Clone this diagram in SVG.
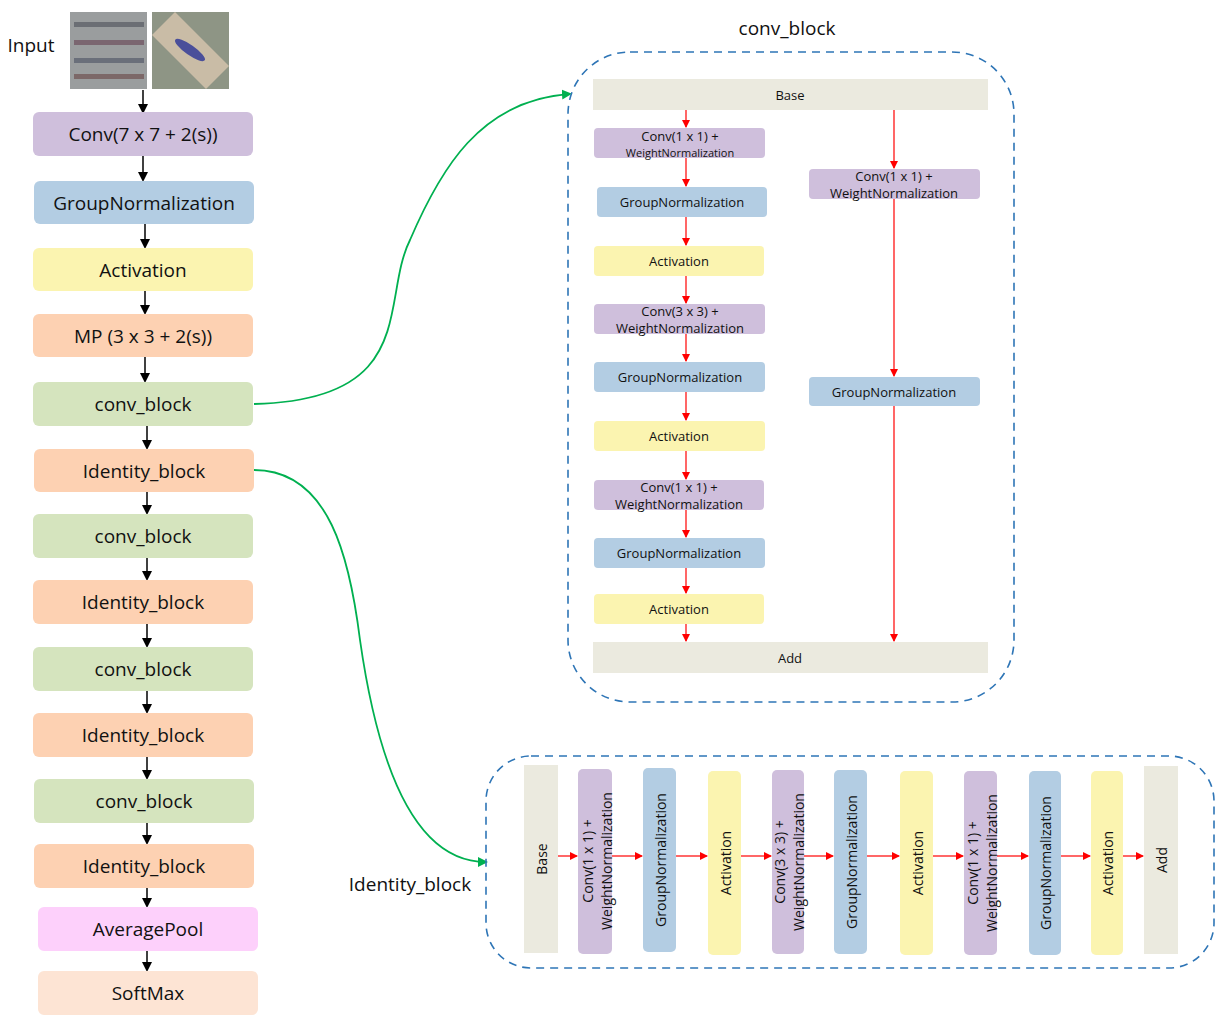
<svg xmlns="http://www.w3.org/2000/svg" width="1221" height="1023" viewBox="0 0 1221 1023">
<style>
text{font-family:"Open Sans","Liberation Sans",sans-serif;fill:#111;text-anchor:middle;dominant-baseline:central}
.L{font-size:19px}.S{font-size:13px}.V{font-size:14px}
.pu{fill:#cfbfdc}.bl{fill:#b3cde3}.ye{fill:#fbf4b0}.or{fill:#fdd1b2}.gr{fill:#d5e4be}.pk{fill:#fdd0fb}.sm{fill:#fde4d4}.bs{fill:#ebeadf}
.k{stroke:#000;stroke-width:1.5;fill:none;marker-end:url(#ak)}
.r{stroke:#f00;stroke-width:1.2;fill:none;marker-end:url(#ar)}
.g{stroke:#00b050;stroke-width:1.8;fill:none;marker-end:url(#ag)}
.d{fill:none;stroke:#2e75b6;stroke-width:1.6;stroke-dasharray:8 6}
</style>
<defs>
<marker id="ak" markerWidth="10" markerHeight="10" refX="8" refY="5" orient="auto" markerUnits="userSpaceOnUse"><path d="M0,0L10,5L0,10z" fill="#000"/></marker>
<marker id="ar" markerWidth="8" markerHeight="8" refX="7" refY="4" orient="auto" markerUnits="userSpaceOnUse"><path d="M0,0L8,4L0,8z" fill="#f00"/></marker>
<marker id="ag" markerWidth="10" markerHeight="10" refX="8" refY="5" orient="auto" markerUnits="userSpaceOnUse"><path d="M0,0L10,5L0,10z" fill="#00b050"/></marker>
</defs>
<text x="31" y="45" class="L">Input</text>
<g id="input-images">
<rect x="70" y="12" width="77" height="77" fill="#9a9d9e"/>
<rect x="74" y="22" width="70" height="5" fill="#6b6e74"/><rect x="74" y="40" width="70" height="5" fill="#7a6670"/><rect x="74" y="58" width="70" height="5" fill="#6a6f7a"/><rect x="74" y="74" width="70" height="5" fill="#7c6868"/>
<rect x="152" y="12" width="77" height="77" fill="#8e9585"/>
<path d="M152,35 L175,12 L229,66 L206,89 Z" fill="#c9bca6"/>
<ellipse cx="190" cy="50" rx="18" ry="5" transform="rotate(35 190 50)" fill="#4a4f9a"/>
</g>
<g id="connectors">
<path class="k" d="M143,90V112"/><path class="k" d="M143,156V180"/><path class="k" d="M145,224V247"/><path class="k" d="M145,291V313"/><path class="k" d="M145,357V381"/><path class="k" d="M147,426V448"/><path class="k" d="M147,492V513"/><path class="k" d="M147,558V579"/><path class="k" d="M147,624V646"/><path class="k" d="M147,691V712"/><path class="k" d="M147,757V778"/><path class="k" d="M147,823V843"/><path class="k" d="M147,888V906"/><path class="k" d="M147,951V970"/>
<path class="g" d="M254,404 C420,400 380,300 410,240 C440,170 480,100 570,94"/>
<path class="g" d="M254,470 C330,470 350,560 360,640 C380,780 420,862 486,862"/>
<path class="r" d="M686,110V127"/><path class="r" d="M686,158V186"/><path class="r" d="M686,217V245"/><path class="r" d="M686,276V303"/><path class="r" d="M686,334V361"/><path class="r" d="M686,392V420"/><path class="r" d="M686,451V479"/><path class="r" d="M686,510V537"/><path class="r" d="M686,568V593"/><path class="r" d="M686,624V641"/>
<path class="r" d="M894,110V168"/><path class="r" d="M894,199V376"/><path class="r" d="M894,406V641"/>
<path class="r" d="M558,856H577"/><path class="r" d="M612,856H642"/><path class="r" d="M676,856H707"/><path class="r" d="M741,856H771"/><path class="r" d="M804,856H833"/><path class="r" d="M867,856H899"/><path class="r" d="M933,856H963"/><path class="r" d="M997,856H1028"/><path class="r" d="M1061,856H1090"/><path class="r" d="M1123,856H1143"/>
</g>
<g id="left">
<g id="n1"><rect class="pu" x="33" y="112" width="220" height="44" rx="6"/><text class="L" x="143" y="134">Conv(7 x 7 + 2(s))</text></g>
<g id="n2"><rect class="bl" x="34" y="181" width="220" height="43" rx="6"/><text class="L" x="144" y="203">GroupNormalization</text></g>
<g id="n3"><rect class="ye" x="33" y="248" width="220" height="43" rx="6"/><text class="L" x="143" y="270">Activation</text></g>
<g id="n4"><rect class="or" x="33" y="314" width="220" height="43" rx="6"/><text class="L" x="143" y="336">MP (3 x 3 + 2(s))</text></g>
<g id="n5"><rect class="gr" x="33" y="382" width="220" height="44" rx="6"/><text class="L" x="143" y="404">conv_block</text></g>
<g id="n6"><rect class="or" x="34" y="449" width="220" height="43" rx="6"/><text class="L" x="144" y="471">Identity_block</text></g>
<g id="n7"><rect class="gr" x="33" y="514" width="220" height="44" rx="6"/><text class="L" x="143" y="536">conv_block</text></g>
<g id="n8"><rect class="or" x="33" y="580" width="220" height="44" rx="6"/><text class="L" x="143" y="602">Identity_block</text></g>
<g id="n9"><rect class="gr" x="33" y="647" width="220" height="44" rx="6"/><text class="L" x="143" y="669">conv_block</text></g>
<g id="n10"><rect class="or" x="33" y="713" width="220" height="44" rx="6"/><text class="L" x="143" y="735">Identity_block</text></g>
<g id="n11"><rect class="gr" x="34" y="779" width="220" height="44" rx="6"/><text class="L" x="144" y="801">conv_block</text></g>
<g id="n12"><rect class="or" x="34" y="844" width="220" height="44" rx="6"/><text class="L" x="144" y="866">Identity_block</text></g>
<g id="n13"><rect class="pk" x="38" y="907" width="220" height="44" rx="6"/><text class="L" x="148" y="929">AveragePool</text></g>
<g id="n14"><rect class="sm" x="38" y="971" width="220" height="44" rx="6"/><text class="L" x="148" y="993">SoftMax</text></g>
</g>
<g id="convblock">
<text class="L" x="787" y="28">conv_block</text>
<rect class="d" x="568" y="52" width="446" height="650" rx="62"/>
<g id="c-base"><rect class="bs" x="593" y="79" width="395" height="31"/><text class="S" x="790" y="95">Base</text></g>
<g id="c1"><rect class="pu" x="594" y="128" width="171" height="30" rx="4"/><text class="S" x="680" y="136">Conv(1 x 1) +</text><text x="680" y="152" font-size="11">WeightNormalization</text></g>
<g id="c2"><rect class="bl" x="597" y="187" width="170" height="30" rx="4"/><text class="S" x="682" y="202">GroupNormalization</text></g>
<g id="c3"><rect class="ye" x="594" y="246" width="170" height="30" rx="4"/><text class="S" x="679" y="261">Activation</text></g>
<g id="c4"><rect class="pu" x="594" y="304" width="171" height="30" rx="4"/><text class="S" x="680" y="311">Conv(3 x 3) +</text><text class="S" x="680" y="328">WeightNormalization</text></g>
<g id="c5"><rect class="bl" x="594" y="362" width="171" height="30" rx="4"/><text class="S" x="680" y="377">GroupNormalization</text></g>
<g id="c6"><rect class="ye" x="594" y="421" width="171" height="30" rx="4"/><text class="S" x="679" y="436">Activation</text></g>
<g id="c7"><rect class="pu" x="594" y="480" width="170" height="30" rx="4"/><text class="S" x="679" y="487">Conv(1 x 1) +</text><text class="S" x="679" y="504">WeightNormalization</text></g>
<g id="c8"><rect class="bl" x="594" y="538" width="171" height="30" rx="4"/><text class="S" x="679" y="553">GroupNormalization</text></g>
<g id="c9"><rect class="ye" x="594" y="594" width="170" height="30" rx="4"/><text class="S" x="679" y="609">Activation</text></g>
<g id="c10"><rect class="pu" x="809" y="169" width="171" height="30" rx="4"/><text class="S" x="894" y="176">Conv(1 x 1) +</text><text class="S" x="894" y="193">WeightNormalization</text></g>
<g id="c11"><rect class="bl" x="809" y="377" width="171" height="29" rx="4"/><text class="S" x="894" y="392">GroupNormalization</text></g>
<g id="c-add"><rect class="bs" x="593" y="642" width="395" height="31"/><text class="S" x="790" y="658">Add</text></g>
</g>
<g id="identityblock">
<text class="L" x="410" y="884">Identity_block</text>
<rect class="d" x="486" y="756" width="728" height="212" rx="45"/>
<g id="i1"><rect class="bs" x="524" y="765" width="34" height="188"/><text class="V" transform="translate(541,859) rotate(-90)">Base</text></g>
<g id="i2"><rect class="pu" x="578" y="769" width="34" height="185" rx="5"/><text class="V" transform="translate(587,861) rotate(-90)">Conv(1 x 1) +</text><text class="V" transform="translate(606,861) rotate(-90)">WeightNormalization</text></g>
<g id="i3"><rect class="bl" x="643" y="768" width="33" height="184" rx="5"/><text class="V" transform="translate(660,860) rotate(-90)">GroupNormalization</text></g>
<g id="i4"><rect class="ye" x="708" y="771" width="33" height="184" rx="5"/><text class="V" transform="translate(725,863) rotate(-90)">Activation</text></g>
<g id="i5"><rect class="pu" x="772" y="770" width="32" height="184" rx="5"/><text class="V" transform="translate(779,862) rotate(-90)">Conv(3 x 3) +</text><text class="V" transform="translate(798,862) rotate(-90)">WeightNormalization</text></g>
<g id="i6"><rect class="bl" x="834" y="770" width="33" height="184" rx="5"/><text class="V" transform="translate(851,862) rotate(-90)">GroupNormalization</text></g>
<g id="i7"><rect class="ye" x="900" y="771" width="33" height="184" rx="5"/><text class="V" transform="translate(917,863) rotate(-90)">Activation</text></g>
<g id="i8"><rect class="pu" x="964" y="771" width="33" height="184" rx="5"/><text class="V" transform="translate(972,863) rotate(-90)">Conv(1 x 1) +</text><text class="V" transform="translate(991,863) rotate(-90)">WeightNormalization</text></g>
<g id="i9"><rect class="bl" x="1029" y="771" width="32" height="184" rx="5"/><text class="V" transform="translate(1045,863) rotate(-90)">GroupNormalization</text></g>
<g id="i10"><rect class="ye" x="1091" y="771" width="32" height="184" rx="5"/><text class="V" transform="translate(1107,863) rotate(-90)">Activation</text></g>
<g id="i11"><rect class="bs" x="1144" y="766" width="34" height="188"/><text class="V" transform="translate(1161,860) rotate(-90)">Add</text></g>
</g>
</svg>
